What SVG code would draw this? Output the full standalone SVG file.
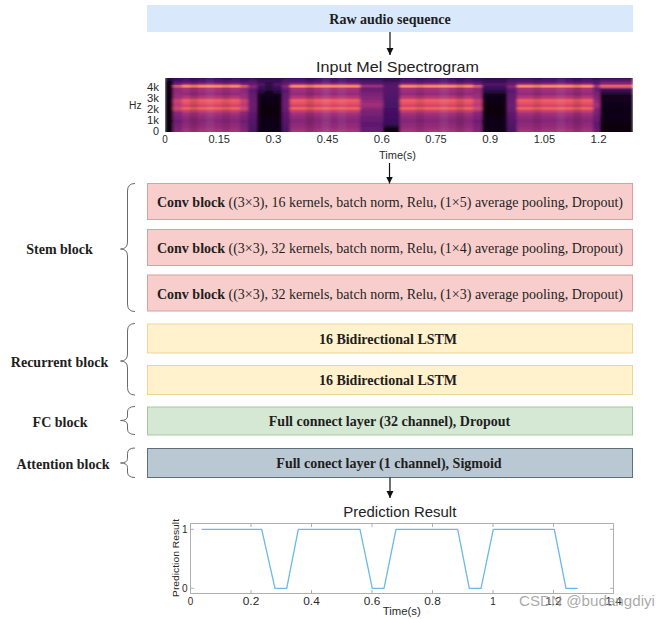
<svg xmlns="http://www.w3.org/2000/svg" width="670" height="619" viewBox="0 0 670 619">
<defs>
<style>
.serif{font-family:"Liberation Serif","Times New Roman",serif;font-size:14px;fill:#1e1e1e}
.b{font-weight:bold}
.sans{font-family:"Liberation Sans",Arial,sans-serif;fill:#222}
.ax{font-family:"Liberation Sans",Arial,sans-serif;font-size:10px;fill:#2a2a2a}
.brace{fill:none;stroke:#6a6a6a;stroke-width:1}
.conv{fill:#f8cecc;stroke:#dd9e9c;stroke-width:1}
.lstm{fill:#fff2cc;stroke:#efd595;stroke-width:1}
.fc{fill:#d5e8d4;stroke:#a3c999;stroke-width:1}
.att{fill:#bac8d3;stroke:#5b6f7f;stroke-width:1}
.conn{stroke:#111;stroke-width:1.2;fill:none;marker-end:url(#ah)}
.tick{stroke:#9a9a9a;stroke-width:0.8}
</style>
<marker id="ah" markerWidth="8" markerHeight="8" refX="7" refY="4" orient="auto" markerUnits="userSpaceOnUse"><path d="M0,0.5 L7,4 L0,7.5 Z" fill="#111"/></marker>
<filter id="soft" filterUnits="userSpaceOnUse" x="165" y="78" width="468" height="54">
<feGaussianBlur stdDeviation="1.6 0.5" edgeMode="duplicate"/>
</filter>
<linearGradient id="gV" x1="0" y1="0" x2="0" y2="1">
<stop offset="0" stop-color="#3b0f5e"/><stop offset="0.07" stop-color="#5a1670"/><stop offset="0.11" stop-color="#92297a"/>
<stop offset="0.135" stop-color="#f47a5e"/><stop offset="0.165" stop-color="#fb9164"/><stop offset="0.19" stop-color="#a8327c"/>
<stop offset="0.30" stop-color="#932b7b"/><stop offset="0.37" stop-color="#bf3a76"/><stop offset="0.41" stop-color="#f0605e"/>
<stop offset="0.47" stop-color="#e4506a"/><stop offset="0.52" stop-color="#d0426c"/><stop offset="0.56" stop-color="#f46a5a"/>
<stop offset="0.60" stop-color="#d2446c"/><stop offset="0.66" stop-color="#a0317b"/><stop offset="0.78" stop-color="#852677"/>
<stop offset="0.90" stop-color="#932b78"/><stop offset="1" stop-color="#a8347a"/>
</linearGradient>
<linearGradient id="gV2" x1="0" y1="0" x2="0" y2="1">
<stop offset="0" stop-color="#330d58"/><stop offset="0.08" stop-color="#52146c"/><stop offset="0.12" stop-color="#82257a"/>
<stop offset="0.14" stop-color="#d45a6c"/><stop offset="0.17" stop-color="#c8506e"/><stop offset="0.2" stop-color="#8a2878"/>
<stop offset="0.36" stop-color="#9c2f7b"/><stop offset="0.42" stop-color="#cc446c"/><stop offset="0.5" stop-color="#b8397a"/>
<stop offset="0.57" stop-color="#cf4a6c"/><stop offset="0.64" stop-color="#8a2878"/><stop offset="0.8" stop-color="#6e1e72"/>
<stop offset="1" stop-color="#862776"/>
</linearGradient>
<linearGradient id="gV3" x1="0" y1="0" x2="0" y2="1">
<stop offset="0" stop-color="#2e0c52"/><stop offset="0.1" stop-color="#5a186c"/><stop offset="0.15" stop-color="#a03580"/>
<stop offset="0.2" stop-color="#6a1c70"/><stop offset="0.4" stop-color="#8a2878"/><stop offset="0.5" stop-color="#a3307a"/>
<stop offset="0.6" stop-color="#7e2476"/><stop offset="0.85" stop-color="#5e186e"/><stop offset="1" stop-color="#6a1c70"/>
</linearGradient>
<linearGradient id="gM" x1="0" y1="0" x2="0" y2="1">
<stop offset="0" stop-color="#3a0e5a"/><stop offset="0.12" stop-color="#6a1c70"/><stop offset="0.16" stop-color="#8a2878"/>
<stop offset="0.22" stop-color="#5e186e"/><stop offset="0.5" stop-color="#6e1e72"/><stop offset="0.8" stop-color="#561468"/>
<stop offset="1" stop-color="#4a1262"/>
</linearGradient>
<linearGradient id="gD" x1="0" y1="0" x2="0" y2="1">
<stop offset="0" stop-color="#2a0a4c"/><stop offset="0.12" stop-color="#4c1464"/><stop offset="0.2" stop-color="#3a0e5a"/>
<stop offset="0.3" stop-color="#14061f"/><stop offset="0.5" stop-color="#07020f"/><stop offset="1" stop-color="#0a0314"/>
</linearGradient>
<linearGradient id="gP" x1="0" y1="0" x2="0" y2="1">
<stop offset="0" stop-color="#2c0b4e"/><stop offset="0.15" stop-color="#5a186c"/><stop offset="0.5" stop-color="#4a1266"/>
<stop offset="0.85" stop-color="#3a0e5a"/><stop offset="0.92" stop-color="#14061f"/><stop offset="1" stop-color="#07020f"/>
</linearGradient>
<linearGradient id="gDL" x1="0" y1="0" x2="0" y2="1">
<stop offset="0" stop-color="#3a0e5a"/><stop offset="0.11" stop-color="#8a2878"/><stop offset="0.14" stop-color="#e8646a"/>
<stop offset="0.17" stop-color="#d85a6a"/><stop offset="0.21" stop-color="#4a1262"/><stop offset="0.32" stop-color="#14061f"/>
<stop offset="1" stop-color="#06020c"/>
</linearGradient>
<linearGradient id="gB" x1="0" y1="0" x2="0" y2="1">
<stop offset="0" stop-color="#240a44"/><stop offset="0.1" stop-color="#0c0418"/><stop offset="1" stop-color="#060208"/>
</linearGradient>
</defs>

<rect width="670" height="619" fill="#ffffff"/>

<g id="raw-audio">
<rect x="147" y="5" width="486" height="27" fill="#dae8fc"/>
<text class="serif b" x="390" y="24" text-anchor="middle">Raw audio sequence</text>
</g>

<g id="spectrogram">
<text class="sans" x="316" y="72" font-size="15" textLength="163" lengthAdjust="spacingAndGlyphs">Input Mel Spectrogram</text>
<g filter="url(#soft)">
<rect x="165" y="78" width="8" height="54" fill="url(#gB)"/>
<rect x="173" y="78" width="9" height="54" fill="url(#gV2)"/>
<rect x="182" y="78" width="58" height="54" fill="url(#gV)"/>
<rect x="240" y="78" width="8" height="54" fill="url(#gV2)"/>
<rect x="248" y="78" width="9" height="54" fill="url(#gM)"/>
<rect x="257" y="78" width="25" height="54" fill="url(#gD)"/>
<rect x="282" y="78" width="8" height="54" fill="url(#gM)"/>
<rect x="290" y="78" width="70" height="54" fill="url(#gV)"/>
<rect x="360" y="78" width="23" height="54" fill="url(#gV3)"/>
<rect x="383" y="78" width="17" height="54" fill="url(#gP)"/>
<rect x="400" y="78" width="73" height="54" fill="url(#gV)"/>
<rect x="473" y="78" width="9" height="54" fill="url(#gV2)"/>
<rect x="482" y="78" width="25" height="54" fill="url(#gD)"/>
<rect x="507" y="78" width="10" height="54" fill="url(#gM)"/>
<rect x="517" y="78" width="76" height="54" fill="url(#gV)"/>
<rect x="593" y="78" width="7" height="54" fill="url(#gV3)"/>
<rect x="600" y="78" width="33" height="54" fill="url(#gDL)"/>
<g fill="#000">
<rect x="190" y="78" width="8" height="54" opacity="0.1"/>
<rect x="222" y="78" width="8" height="54" opacity="0.08"/>
<rect x="306" y="78" width="8" height="54" opacity="0.1"/>
<rect x="416" y="78" width="8" height="54" opacity="0.08"/>
<rect x="456" y="78" width="8" height="54" opacity="0.1"/>
<rect x="533" y="78" width="8" height="54" opacity="0.08"/>
<rect x="573" y="78" width="8" height="54" opacity="0.1"/>
<rect x="265" y="82" width="8" height="12" opacity="0.3"/>
</g>
<g fill="#fff">
<rect x="206" y="78" width="8" height="54" opacity="0.06"/>
<rect x="322" y="78" width="8" height="54" opacity="0.07"/>
<rect x="338" y="78" width="8" height="54" opacity="0.05"/>
<rect x="440" y="78" width="8" height="54" opacity="0.06"/>
<rect x="557" y="78" width="8" height="54" opacity="0.06"/>
</g>
</g>
<g class="ax">
<text x="159" y="90.5" text-anchor="end" textLength="12" lengthAdjust="spacingAndGlyphs">4k</text>
<text x="159" y="101.5" text-anchor="end" textLength="12" lengthAdjust="spacingAndGlyphs">3k</text>
<text x="159" y="112.5" text-anchor="end" textLength="12" lengthAdjust="spacingAndGlyphs">2k</text>
<text x="159" y="124" text-anchor="end" textLength="12" lengthAdjust="spacingAndGlyphs">1k</text>
<text x="159" y="134.5" text-anchor="end" textLength="6" lengthAdjust="spacingAndGlyphs">0</text>
<text x="129" y="109" textLength="12.5" lengthAdjust="spacingAndGlyphs">Hz</text>
<text x="165" y="142.5" text-anchor="middle" textLength="5.5" lengthAdjust="spacingAndGlyphs">0</text>
<text x="219.2" y="142.5" text-anchor="middle" textLength="21.5" lengthAdjust="spacingAndGlyphs">0.15</text>
<text x="273.4" y="142.5" text-anchor="middle" textLength="16" lengthAdjust="spacingAndGlyphs">0.3</text>
<text x="327.6" y="142.5" text-anchor="middle" textLength="21.5" lengthAdjust="spacingAndGlyphs">0.45</text>
<text x="381.8" y="142.5" text-anchor="middle" textLength="16" lengthAdjust="spacingAndGlyphs">0.6</text>
<text x="436" y="142.5" text-anchor="middle" textLength="21.5" lengthAdjust="spacingAndGlyphs">0.75</text>
<text x="490.2" y="142.5" text-anchor="middle" textLength="16" lengthAdjust="spacingAndGlyphs">0.9</text>
<text x="544.4" y="142.5" text-anchor="middle" textLength="21.5" lengthAdjust="spacingAndGlyphs">1.05</text>
<text x="598.6" y="142.5" text-anchor="middle" textLength="16" lengthAdjust="spacingAndGlyphs">1.2</text>
<text x="397.5" y="158.5" text-anchor="middle" font-size="10.5" textLength="37" lengthAdjust="spacingAndGlyphs">Time(s)</text>
</g>
</g>

<g id="conv1">
<rect class="conv" x="147.5" y="183.5" width="485" height="36"/>
<text class="serif" x="390" y="207" text-anchor="middle"><tspan class="b">Conv block</tspan> ((3×3), 16 kernels, batch norm, Relu, (1×5) average pooling, Dropout)</text>
</g>
<g id="conv2">
<rect class="conv" x="147.5" y="229.5" width="485" height="36"/>
<text class="serif" x="390" y="253" text-anchor="middle"><tspan class="b">Conv block</tspan> ((3×3), 32 kernels, batch norm, Relu, (1×4) average pooling, Dropout)</text>
</g>
<g id="conv3">
<rect class="conv" x="147.5" y="275" width="485" height="36"/>
<text class="serif" x="390" y="298.5" text-anchor="middle"><tspan class="b">Conv block</tspan> ((3×3), 32 kernels, batch norm, Relu, (1×3) average pooling, Dropout)</text>
</g>
<g id="lstm1">
<rect class="lstm" x="147.5" y="324" width="485" height="29"/>
<text class="serif b" x="388" y="343.5" text-anchor="middle">16 Bidirectional LSTM</text>
</g>
<g id="lstm2">
<rect class="lstm" x="147.5" y="365.5" width="485" height="29"/>
<text class="serif b" x="388" y="385" text-anchor="middle">16 Bidirectional LSTM</text>
</g>
<g id="fc">
<rect class="fc" x="147.5" y="407" width="485" height="28"/>
<text class="serif b" x="389.5" y="426" text-anchor="middle">Full connect layer (32 channel), Dropout</text>
</g>
<g id="attention">
<rect class="att" x="147.5" y="448.5" width="485" height="29"/>
<text class="serif b" x="389" y="468" text-anchor="middle">Full conect layer (1 channel), Sigmoid</text>
</g>

<g id="stem-block">
<path class="brace" d="M135,183.5 Q127.5,183.5 127.5,191 L127.5,242 Q127.5,249 120.5,249 Q127.5,249 127.5,256 L127.5,304 Q127.5,311.5 135,311.5"/>
<text class="serif b" x="59.5" y="254" text-anchor="middle">Stem block</text>
</g>
<g id="recurrent-block">
<path class="brace" d="M135,323.5 Q127.5,323.5 127.5,331 L127.5,354 Q127.5,361 120.5,361 Q127.5,361 127.5,368 L127.5,387.5 Q127.5,395 135,395"/>
<text class="serif b" x="59.5" y="366.5" text-anchor="middle">Recurrent block</text>
</g>
<g id="fc-block">
<path class="brace" d="M135,406.5 Q127.5,406.5 127.5,412 L127.5,416 Q127.5,420.5 120.5,420.5 Q127.5,420.5 127.5,425 L127.5,429 Q127.5,434.5 135,434.5"/>
<text class="serif b" x="60" y="426.5" text-anchor="middle">FC block</text>
</g>
<g id="attention-block">
<path class="brace" d="M135,448 Q127.5,448 127.5,453.5 L127.5,458.5 Q127.5,463 120.5,463 Q127.5,463 127.5,467.5 L127.5,472 Q127.5,477.5 135,477.5"/>
<text class="serif b" x="63" y="469" text-anchor="middle">Attention block</text>
</g>

<g id="prediction-result">
<text class="sans" x="343.3" y="517.3" font-size="15" textLength="113" lengthAdjust="spacingAndGlyphs">Prediction Result</text>
<rect x="190.5" y="523.5" width="423" height="70" fill="none" stroke="#b0b0b0" stroke-width="1"/>
<g class="tick">
<path d="M251,523.5 V527 M311.5,523.5 V527 M372,523.5 V527 M432.5,523.5 V527 M493,523.5 V527 M553.5,523.5 V527"/>
<path d="M251,593.5 V590 M311.5,593.5 V590 M372,593.5 V590 M432.5,593.5 V590 M493,593.5 V590 M553.5,593.5 V590"/>
<path d="M190.5,529.3 H194 M190.5,588.3 H194 M613.5,529.3 H610 M613.5,588.3 H610"/>
</g>
<polyline fill="none" stroke="#6cb8e6" stroke-width="1.3" stroke-linejoin="round" points="201.7,529.3 261.7,529.3 275,588.3 286.7,588.3 298.3,529.3 360,529.3 372.3,588.3 384,588.3 396,529.3 457.7,529.3 469.3,588.3 481,588.3 493.3,529.3 554.3,529.3 566,588.3 577.7,588.3"/>
<g class="ax" fill="#222">
<text x="187.5" y="532.8" text-anchor="end">1</text>
<text x="187.5" y="591.8" text-anchor="end">0</text>
<text x="190.5" y="605" text-anchor="middle" textLength="5.5" lengthAdjust="spacingAndGlyphs">0</text>
<text x="251" y="605" text-anchor="middle" textLength="16.5" lengthAdjust="spacingAndGlyphs">0.2</text>
<text x="311.5" y="605" text-anchor="middle" textLength="16.5" lengthAdjust="spacingAndGlyphs">0.4</text>
<text x="372" y="605" text-anchor="middle" textLength="16.5" lengthAdjust="spacingAndGlyphs">0.6</text>
<text x="432.5" y="605" text-anchor="middle" textLength="16.5" lengthAdjust="spacingAndGlyphs">0.8</text>
<text x="493" y="605" text-anchor="middle" textLength="5.5" lengthAdjust="spacingAndGlyphs">1</text>
<text x="553.5" y="605" text-anchor="middle" textLength="16.5" lengthAdjust="spacingAndGlyphs">1.2</text>
<text x="613.5" y="605" text-anchor="middle" textLength="16.5" lengthAdjust="spacingAndGlyphs">1.4</text>
<text x="401.7" y="614.5" text-anchor="middle" font-size="10.5" textLength="38" lengthAdjust="spacingAndGlyphs">Time(s)</text>
<text transform="translate(178.5,558) rotate(-90)" text-anchor="middle" font-size="9.5" textLength="78" lengthAdjust="spacingAndGlyphs">Prediction Result</text>
</g>
</g>

<g id="connectors">
<path class="conn" d="M390,32 V55"/>
<path class="conn" d="M389.5,163 V183.5"/>
<path class="conn" d="M390,477.5 V498"/>
</g>

<text x="519" y="605.5" font-family="'Liberation Sans',Arial,sans-serif" font-size="14.7" fill="#9a9a9a" fill-opacity="0.85" textLength="136" lengthAdjust="spacingAndGlyphs">CSDN @budangdiyi</text>
</svg>
